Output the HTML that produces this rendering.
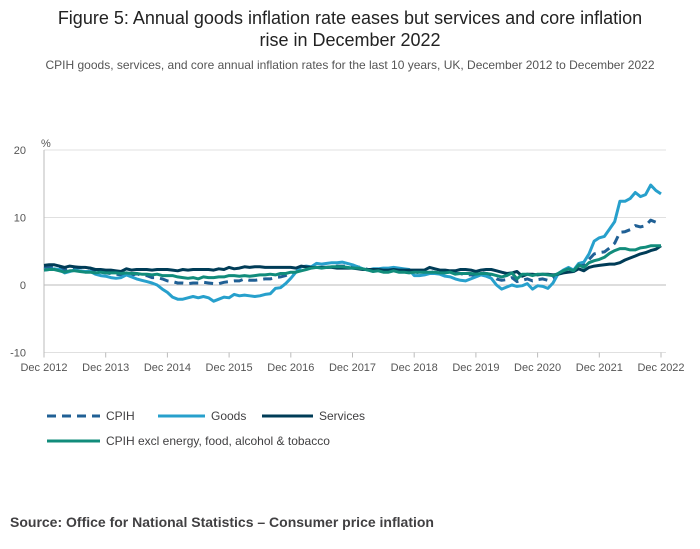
<!DOCTYPE html>
<html><head><meta charset="utf-8"><style>
body{margin:0;background:#fff;font-family:"Liberation Sans",sans-serif;}
</style></head><body>
<svg width="700" height="549" style="display:block">
<text x="350" y="24" text-anchor="middle" font-size="18" fill="#222">Figure 5: Annual goods inflation rate eases but services and core inflation</text>
<text x="350" y="46" text-anchor="middle" font-size="18" fill="#222">rise in December 2022</text>
<text x="350" y="69" text-anchor="middle" font-size="12" fill="#555">CPIH goods, services, and core annual inflation rates for the last 10 years, UK, December 2012 to December 2022</text>
<g id="grid"></g><g id="series"></g>
<text x="41" y="147" font-size="11" fill="#555">%</text>
<g>
<line x1="47" y1="416" x2="100" y2="416" stroke="#206095" stroke-width="3" stroke-dasharray="9,6"/>
<text x="106" y="420" font-size="12" fill="#414042">CPIH</text>
<line x1="158" y1="416" x2="205" y2="416" stroke="#27a0cc" stroke-width="3"/>
<text x="211" y="420" font-size="12" fill="#414042">Goods</text>
<line x1="262" y1="416" x2="313" y2="416" stroke="#003c57" stroke-width="3"/>
<text x="319" y="420" font-size="12" fill="#414042">Services</text>
<line x1="47" y1="441" x2="100" y2="441" stroke="#118c7b" stroke-width="3"/>
<text x="106" y="445" font-size="12" fill="#414042">CPIH excl energy, food, alcohol &amp; tobacco</text>
</g>
<text x="10" y="527" font-size="14" font-weight="bold" fill="#414042">Source: Office for National Statistics – Consumer price inflation</text>
</svg>
<script>
const xTickLabels=["Dec 2012","Dec 2013","Dec 2014","Dec 2015","Dec 2016","Dec 2017","Dec 2018","Dec 2019","Dec 2020","Dec 2021","Dec 2022"];
const yTicks=[-10,0,10,20];
const cpih=[2.7,2.6,2.7,2.6,2.2,2.5,2.5,2.6,2.5,2.5,2.0,1.9,1.8,1.7,1.6,1.5,1.6,1.4,1.7,1.4,1.4,1.1,1.1,0.9,0.6,0.5,0.3,0.3,0.2,0.3,0.3,0.4,0.3,0.2,0.2,0.4,0.5,0.6,0.6,0.9,0.7,0.7,0.8,0.9,0.9,1.1,1.2,1.4,1.8,1.9,2.3,2.3,2.6,2.7,2.6,2.6,2.7,2.8,2.8,2.8,2.7,2.7,2.5,2.3,2.2,2.3,2.3,2.4,2.5,2.2,2.2,2.2,2.0,1.8,1.8,1.8,2.0,1.9,1.9,2.0,1.7,1.7,1.5,1.5,1.4,1.8,1.7,1.5,0.9,0.7,0.8,1.1,0.5,0.7,0.9,0.6,0.8,0.9,0.7,1.0,1.6,2.1,2.4,2.1,3.0,2.9,3.8,4.6,4.8,4.9,5.5,6.2,7.8,7.9,8.2,8.8,8.6,8.8,9.6,9.3,9.2];
const goods=[2.2,2.3,2.4,2.3,1.8,2.0,2.2,2.1,2.0,2.0,1.6,1.4,1.3,1.1,1.0,1.1,1.5,1.2,0.9,0.7,0.5,0.3,0.0,-0.6,-1.1,-1.8,-2.1,-2.1,-1.9,-1.7,-1.9,-1.7,-1.9,-2.4,-2.1,-1.8,-1.9,-1.4,-1.6,-1.5,-1.6,-1.7,-1.6,-1.4,-1.3,-0.5,-0.4,0.2,1.0,1.9,2.7,2.8,2.7,3.2,3.1,3.2,3.3,3.3,3.4,3.2,3.0,2.7,2.4,2.2,2.4,2.4,2.5,2.5,2.6,2.5,2.4,2.3,1.4,1.4,1.5,1.7,1.7,1.6,1.3,1.2,0.9,0.7,0.6,0.9,1.2,1.5,1.3,1.0,0.0,-0.6,-0.3,0.0,-0.2,-0.1,0.2,-0.6,-0.1,-0.2,-0.5,0.3,1.7,2.2,2.6,2.2,3.2,3.4,4.6,6.5,7.0,7.2,8.3,9.4,12.4,12.4,12.8,13.7,13.1,13.4,14.8,14.0,13.5];
const services=[2.9,3.0,3.0,2.8,2.6,2.8,2.7,2.6,2.6,2.5,2.3,2.3,2.2,2.2,2.1,2.0,2.4,2.2,2.3,2.3,2.3,2.2,2.3,2.3,2.3,2.2,2.1,2.3,2.2,2.3,2.3,2.3,2.3,2.2,2.4,2.3,2.6,2.4,2.5,2.7,2.6,2.7,2.7,2.6,2.6,2.6,2.6,2.6,2.6,2.5,2.8,2.7,2.6,2.6,2.6,2.6,2.6,2.5,2.5,2.5,2.5,2.4,2.3,2.3,2.3,2.3,2.2,2.2,2.3,2.2,2.2,2.2,2.2,2.2,2.2,2.6,2.4,2.2,2.2,2.1,2.1,2.3,2.3,2.2,2.0,2.2,2.3,2.3,2.1,1.9,1.7,1.8,2.0,1.3,1.6,1.6,1.5,1.6,1.6,1.5,1.6,1.8,1.9,2.0,2.4,2.1,2.6,2.8,2.9,3.0,3.1,3.1,3.3,3.7,4.0,4.3,4.6,4.8,5.1,5.3,5.8];
const core=[2.2,2.3,2.3,2.1,1.9,2.1,2.1,2.0,1.9,1.9,1.8,1.9,1.8,1.8,1.8,1.7,1.8,1.7,1.7,1.6,1.6,1.5,1.6,1.4,1.4,1.4,1.2,1.1,1.0,1.1,0.9,1.2,1.1,1.1,1.2,1.2,1.4,1.4,1.3,1.4,1.3,1.4,1.5,1.5,1.6,1.5,1.7,1.7,1.9,1.9,2.1,2.3,2.5,2.6,2.5,2.6,2.7,2.7,2.7,2.6,2.5,2.5,2.4,2.2,2.0,2.1,1.9,1.9,2.1,1.9,1.9,1.8,1.9,1.9,1.9,1.9,1.9,1.8,1.8,1.9,1.6,1.7,1.7,1.7,1.6,1.7,1.7,1.6,1.4,1.2,1.4,1.8,0.9,1.6,1.6,1.4,1.6,1.6,1.5,1.4,1.7,2.1,2.4,2.1,3.0,2.6,3.3,3.6,3.8,4.1,4.7,5.1,5.4,5.4,5.2,5.2,5.5,5.6,5.8,5.8,5.8];
const NS="http://www.w3.org/2000/svg";
const X0=44,X1=661,Y0=285,PX=6.75;
const x=i=>X0+(X1-X0)*i/(cpih.length-1);
const y=v=>Y0-v*PX;
const grid=document.getElementById('grid');
function mk(t,a,p){const e=document.createElementNS(NS,t);for(const k in a)e.setAttribute(k,a[k]);p.appendChild(e);return e;}
yTicks.forEach(v=>{
 const l=mk('line',{x1:X0,x2:X1+5,y1:y(v),y2:y(v),stroke:v===0?'#bbb':'#e0e0e0','stroke-width':1},grid);
 
 
 const t=mk('text',{x:26,y:y(v)+4,'text-anchor':'end','font-size':11,fill:'#555'},grid);t.textContent=v;
 
 
});
mk('line',{x1:X0,x2:X0,y1:y(20),y2:y(-10),stroke:'#bbb'},grid);
xTickLabels.forEach((s,k)=>{
 const xx=x(k*12);
 mk('line',{x1:xx,x2:xx,y1:y(-10),y2:y(-10)+5,stroke:'#bbb'},grid);
 const t=mk('text',{x:xx,y:371,'text-anchor':'middle','font-size':11,fill:'#555'},grid);t.textContent=s;
 
 
});
const sg=document.getElementById('series');
function line(arr,col,dash,name){
 const p=mk('path',{d:arr.map((v,i)=>(i?'L':'M')+x(i).toFixed(1)+','+y(v).toFixed(1)).join(''),fill:'none',stroke:col,'stroke-width':3,'stroke-linejoin':'round'},sg);
 if(dash)p.setAttribute('stroke-dasharray',dash);
 
 
}
line(cpih,'#206095','9,6','cpih-line');
line(goods,'#27a0cc',null,'goods-line');
line(services,'#003c57',null,'services-line');
line(core,'#118c7b',null,'core-line');
</script>
</body></html>
